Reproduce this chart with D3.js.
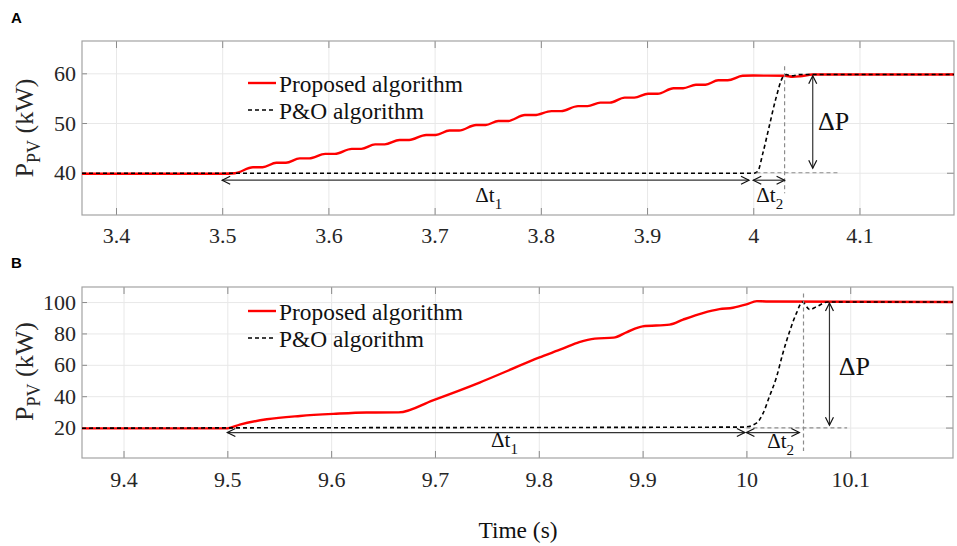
<!DOCTYPE html>
<html>
<head>
<meta charset="utf-8">
<script src="https://cdn.jsdelivr.net/npm/d3@7"></script>
<style>
body { margin: 0; background: #fff; }
text { font-family: "Liberation Serif", "Times New Roman", serif; }
</style>
</head>
<body>
<svg id="chart" width="957" height="546"></svg>
<script>
// Panel A: step at t = 3.5 s (40 kW -> 60 kW)
var propA_t = [3.368, 3.500, 3.512, 3.529, 3.538, 3.551, 3.560, 3.573, 3.582, 3.597, 3.606,
	3.622, 3.631, 3.644, 3.653, 3.667, 3.676, 3.692, 3.701, 3.714, 3.723, 3.739, 3.748,
	3.760, 3.769, 3.785, 3.794, 3.810, 3.819, 3.835, 3.844, 3.856, 3.865, 3.879, 3.888,
	3.901, 3.910, 3.925, 3.934, 3.946, 3.955, 3.967, 3.976, 3.990, 4.000, 4.030, 4.037,
	4.044, 4.056, 4.189];
var propA_p = [39.8, 39.8, 39.9, 41.1, 41.1, 42.0, 42.0, 42.9, 42.9, 43.8, 43.8,
	44.8, 44.8, 45.7, 45.7, 46.6, 46.6, 47.6, 47.6, 48.5, 48.5, 49.6, 49.6,
	50.4, 50.4, 51.6, 51.6, 52.4, 52.4, 53.4, 53.4, 54.1, 54.1, 55.1, 55.1,
	55.9, 55.9, 57.0, 57.0, 57.7, 57.7, 58.6, 58.6, 59.5, 59.55, 59.5, 59.3,
	59.4, 59.75, 59.75];
var poA_t = [3.368, 4.000, 4.004, 4.009, 4.015, 4.021, 4.028, 4.031, 4.036, 4.044, 4.189];
var poA_p = [39.9, 39.9, 40.2, 43.9, 49.3, 54.7, 59.3, 59.75, 59.5, 59.75, 59.75];

// Panel B: step at t = 9.5 s (20 kW -> 100 kW)
var propB_t = [9.36, 9.500, 9.512, 9.538, 9.570, 9.602, 9.634, 9.665, 9.698, 9.743,
	9.769, 9.800, 9.823, 9.839, 9.854, 9.872, 9.885, 9.900, 9.926, 9.939,
	9.958, 9.974, 9.987, 10.000, 10.010, 10.019, 10.2];
var propB_p = [19.5, 19.5, 21.9, 25.3, 27.4, 28.7, 29.6, 29.7, 37.4, 48.7,
	55.9, 64.6, 70.3, 74.5, 76.7, 77.3, 80.9, 84.5, 85.6, 88.8,
	93.0, 95.5, 96.4, 98.5, 100.6, 100.4, 100.0];
var poB_t = [9.36, 9.500, 9.998, 10.010, 10.016, 10.022, 10.029, 10.035, 10.042, 10.048,
	10.054, 10.061, 10.067, 10.078, 10.2];
var poB_p = [19.6, 19.8, 20.3, 23.0, 29.0, 39.5, 52.2, 67.1, 82.0, 92.6,
	100.0, 95.2, 96.8, 100.0, 100.0];

// axis ticks
var xTicksA = [3.4, 3.5, 3.6, 3.7, 3.8, 3.9, 4.0, 4.1];
var yTicksA = [40, 50, 60];
var xTicksB = [9.4, 9.5, 9.6, 9.7, 9.8, 9.9, 10.0, 10.1];
var yTicksB = [20, 40, 60, 80, 100];

// annotations, in data units: [t1, t2, p]
var dt1A = [3.5, 3.996, 38.5];
var dt2A = [4.0, 4.0295, 38.5];
var dPA = [4.056, 59.5, 40.9];
var vRefA = [4.0295, 61.4, 35.9];
var hRefA = [4.003, 4.08, 40.0];
var dt1B = [9.5, 9.9985, 16.8];
var dt2B = [10.0, 10.051, 16.8];
var dPB = [10.08, 99.4, 21.5];
var vRefB = [10.055, 105.5, 5.1];
var hRefB = [10.0, 10.097, 19.8];

var serif = "'Liberation Serif','Times New Roman',serif";
var svg = d3.select("#chart");

// open arrowhead marker
svg.append("defs").append("marker")
	.attr("id", "arrow")
	.attr("viewBox", "-10 -5 12 10")
	.attr("refX", 0).attr("refY", 0)
	.attr("markerWidth", 12).attr("markerHeight", 10)
	.attr("markerUnits", "userSpaceOnUse")
	.attr("orient", "auto-start-reverse")
	.append("path")
	.attr("d", "M-8,-4L0,0L-8,4")
	.attr("fill", "none")
	.attr("stroke", "#111")
	.attr("stroke-width", 1.2);

function zip(ts, ps) {
	var out = [];
	for (var i = 0; i < ts.length; i++) out.push([ts[i], ps[i]]);
	return out;
}

function drawPanel(p) {
	var x = d3.scaleLinear().domain(p.xDomain).range([p.left, p.right]);
	var y = d3.scaleLinear().domain(p.yDomain).range([p.bottom, p.top]);
	var w = p.right - p.left, h = p.bottom - p.top;
	var g = svg.append("g");

	// grid
	g.append("g").attr("transform", "translate(0," + p.bottom + ")")
		.call(d3.axisBottom(x).tickValues(p.xTicks).tickSize(-h).tickFormat(""))
		.call(function (s) { s.select(".domain").remove(); s.selectAll("line").attr("stroke", "#e8e8e8"); });
	g.append("g").attr("transform", "translate(" + p.left + ",0)")
		.call(d3.axisLeft(y).tickValues(p.yTicks).tickSize(-w).tickFormat(""))
		.call(function (s) { s.select(".domain").remove(); s.selectAll("line").attr("stroke", "#e8e8e8"); });

	// ticks on all four sides, pointing inward
	var tickCol = "#8a8a8a";
	function styleAxis(s) {
		s.attr("font-family", serif).attr("font-size", 22);
		s.select(".domain").remove();
		s.selectAll("line").attr("stroke", tickCol);
		s.selectAll("text").attr("fill", "#262626").style("font-size", "22px")
			.style("font-family", serif);
	}
	g.append("g").attr("transform", "translate(0," + p.bottom + ")")
		.call(d3.axisBottom(x).tickValues(p.xTicks).tickSize(-7).tickPadding(p.xPad)
			.tickFormat(function (d) { return d3.format("~g")(d); }))
		.call(styleAxis);
	g.append("g").attr("transform", "translate(0," + p.top + ")")
		.call(d3.axisTop(x).tickValues(p.xTicks).tickSize(-7).tickFormat(""))
		.call(styleAxis);
	g.append("g").attr("transform", "translate(" + p.left + ",0)")
		.call(d3.axisLeft(y).tickValues(p.yTicks).tickSize(-5).tickPadding(6))
		.call(styleAxis);
	g.append("g").attr("transform", "translate(" + p.right + ",0)")
		.call(d3.axisRight(y).tickValues(p.yTicks).tickSize(-7).tickFormat(""))
		.call(styleAxis);

	g.append("rect")
		.attr("x", p.left).attr("y", p.top).attr("width", w).attr("height", h)
		.attr("fill", "none").attr("stroke", "#a3a3a3").attr("stroke-width", 1.2);

	// series
	var clipId = "clip" + p.name;
	svg.append("clipPath").attr("id", clipId).append("rect")
		.attr("x", p.left).attr("y", p.top).attr("width", w).attr("height", h);
	var line = d3.line().x(function (d) { return x(d[0]); }).y(function (d) { return y(d[1]); })
		.curve(d3.curveMonotoneX);
	var plot = g.append("g").attr("clip-path", "url(#" + clipId + ")");
	plot.append("path").datum(zip(p.prop_t, p.prop_p))
		.attr("d", line).attr("fill", "none").attr("stroke", "#ff0000").attr("stroke-width", 2.4);
	plot.append("path").datum(zip(p.po_t, p.po_p))
		.attr("d", line).attr("fill", "none").attr("stroke", "#000").attr("stroke-width", 1.6)
		.attr("stroke-dasharray", "4,3");

	// reference dashed lines
	g.append("line")
		.attr("x1", x(p.vRef[0])).attr("x2", x(p.vRef[0]))
		.attr("y1", y(p.vRef[1])).attr("y2", y(p.vRef[2]))
		.attr("stroke", "#8c8c8c").attr("stroke-width", 1.2).attr("stroke-dasharray", "4,3");
	g.append("line")
		.attr("x1", x(p.hRef[0])).attr("x2", x(p.hRef[1]))
		.attr("y1", y(p.hRef[2])).attr("y2", y(p.hRef[2]))
		.attr("stroke", "#8c8c8c").attr("stroke-width", 1.2).attr("stroke-dasharray", "4,3");

	// double arrows
	function hArrow(a) {
		g.append("line")
			.attr("x1", x(a[0])).attr("x2", x(a[1]))
			.attr("y1", y(a[2])).attr("y2", y(a[2]))
			.attr("stroke", "#333").attr("stroke-width", 1.2)
			.attr("marker-start", "url(#arrow)").attr("marker-end", "url(#arrow)");
	}
	hArrow(p.dt1);
	hArrow(p.dt2);
	g.append("line")
		.attr("x1", x(p.dP[0])).attr("x2", x(p.dP[0]))
		.attr("y1", y(p.dP[1])).attr("y2", y(p.dP[2]))
		.attr("stroke", "#333").attr("stroke-width", 1.2)
		.attr("marker-start", "url(#arrow)").attr("marker-end", "url(#arrow)");

	// annotation labels
	function dtLabel(pos, sub) {
		var t = g.append("text").attr("x", x(pos[0])).attr("y", y(pos[1]))
			.attr("text-anchor", "middle").style("font-size", "21px").attr("fill", "#111");
		t.append("tspan").text("\u0394t");
		t.append("tspan").attr("dy", 7).style("font-size", "15px").text(sub);
	}
	dtLabel(p.dt1Label, "1");
	dtLabel(p.dt2Label, "2");
	g.append("text").attr("x", x(p.dPLabel[0])).attr("y", y(p.dPLabel[1]))
		.style("font-size", "26px").attr("fill", "#111").text("\u0394P");

	// y axis label
	var yl = g.append("text")
		.attr("transform", "translate(33," + ((p.top + p.bottom) / 2 + p.yLabelShift) + ") rotate(-90)")
		.attr("text-anchor", "middle").style("font-size", "26px").attr("fill", "#262626");
	yl.append("tspan").text("P");
	yl.append("tspan").attr("dy", 7).style("font-size", "18px").text("PV");
	yl.append("tspan").attr("dy", -7).text(" (kW)");

	// legend
	var lg = g.append("g");
	lg.append("line").attr("x1", 248).attr("x2", 276).attr("y1", p.legY).attr("y2", p.legY)
		.attr("stroke", "#ff0000").attr("stroke-width", 2.4);
	lg.append("text").attr("x", 279).attr("y", p.legY + 9).style("font-size", "23.4px")
		.attr("fill", "#111").text("Proposed algorithm");
	lg.append("line").attr("x1", 248).attr("x2", 276).attr("y1", p.legY + 27).attr("y2", p.legY + 27)
		.attr("stroke", "#000").attr("stroke-width", 1.6).attr("stroke-dasharray", "4,3");
	lg.append("text").attr("x", 279).attr("y", p.legY + 36).style("font-size", "23.4px")
		.attr("fill", "#111").text("P&O algorithm");

	// panel letter
	svg.append("text").attr("x", 11).attr("y", p.letterY)
		.style("font-family", "'Liberation Sans', Arial, sans-serif")
		.style("font-weight", "bold").style("font-size", "15px").attr("fill", "#000")
		.text(p.name);
}

drawPanel({
	name: "A", left: 82, right: 954, top: 41, bottom: 215,
	xDomain: [3.368, 4.189], yDomain: [31.5, 66.5],
	xTicks: xTicksA, yTicks: yTicksA, xPad: 12,
	prop_t: propA_t, prop_p: propA_p, po_t: poA_t, po_p: poA_p,
	dt1: dt1A, dt2: dt2A, dP: dPA, vRef: vRefA, hRef: hRefA,
	dt1Label: [3.751, 34.2], dt2Label: [4.0155, 34.2], dPLabel: [4.061, 48.6],
	yLabelShift: 0, legY: 83, letterY: 23
});
drawPanel({
	name: "B", left: 82, right: 953, top: 287, bottom: 458,
	xDomain: [9.36, 10.199], yDomain: [0.6, 109.6],
	xTicks: xTicksB, yTicks: yTicksB, xPad: 13,
	prop_t: propB_t, prop_p: propB_p, po_t: poB_t, po_p: poB_p,
	dt1: dt1B, dt2: dt2B, dP: dPB, vRef: vRefB, hRef: hRefB,
	dt1Label: [9.767, 7.6], dt2Label: [10.033, 6.8], dPLabel: [10.089, 53.3],
	yLabelShift: -1, legY: 311, letterY: 268
});

svg.append("text").attr("x", 518).attr("y", 538).attr("text-anchor", "middle")
	.style("font-size", "23.4px").attr("fill", "#111").text("Time (s)");
</script>
</body>
</html>
